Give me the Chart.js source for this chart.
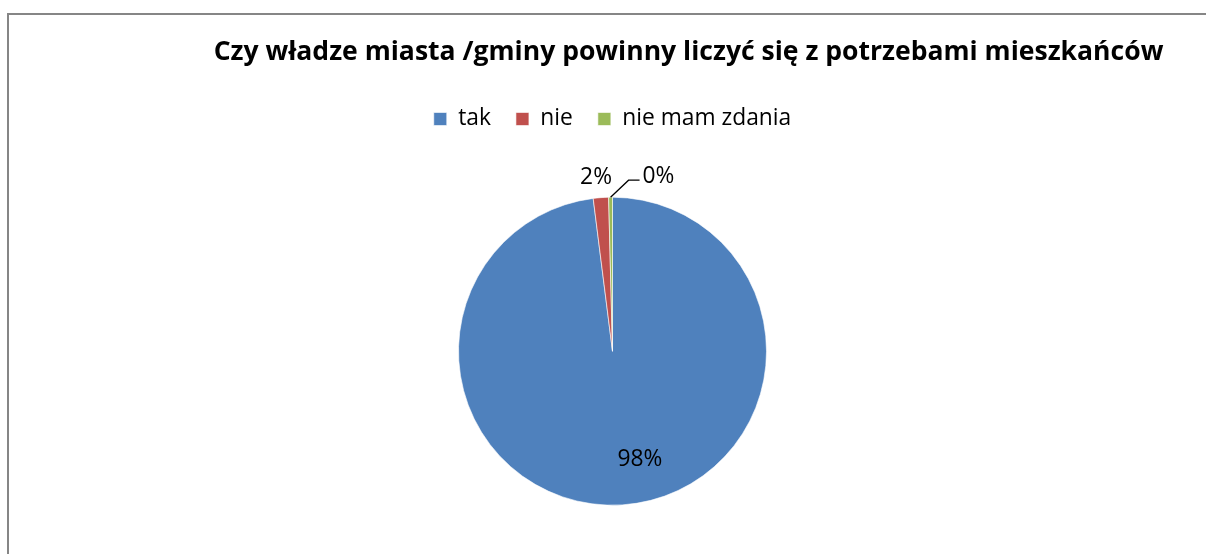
<!DOCTYPE html>
<html>
<head>
<meta charset="utf-8">
<script src="https://cdn.jsdelivr.net/npm/chart.js@4.4.1/dist/chart.umd.min.js"></script>
<style>
html,body{margin:0;padding:0;background:#fff;overflow:hidden;}
canvas{display:block;}
</style>
</head>
<body>
<canvas id="c" width="1206" height="554"></canvas>
<script>
const titleText = 'Czy władze miasta /gminy powinny liczyć się z potrzebami mieszkańców';
const categories = ['tak', 'nie', 'nie mam zdania'];
const values = [245, 4, 1];
const labelTexts = ['98%', '2%', '0%'];
const colors = ['#4F81BD', '#C0504D', '#9BBB59'];

const FONT = '"Open Sans", Lato, sans-serif';

// fit font sizes to the widths measured in the reference
const mctx = document.createElement('canvas').getContext('2d');
mctx.font = 'bold 100px ' + FONT;
const titleSize = 100 * 950 / mctx.measureText(titleText).width;
mctx.font = '100px ' + FONT;
const textSize = 100 * 169 / mctx.measureText('nie mam zdania').width;

// label placement relative to arc (angle clockwise from top in degrees, fraction of radius)
const labelPlacement = [
  {angle: 165.7, dist: 0.723, leader: false},
  {angle: 354.6, dist: 1.135, leader: false},
  {angle: null, dist: 1.0, leader: true}
];

const framePlugin = {
  id: 'frame',
  beforeDraw(chart) {
    const ctx = chart.ctx;
    ctx.save();
    ctx.fillStyle = '#ffffff';
    ctx.fillRect(0, 0, chart.width, chart.height);
    ctx.strokeStyle = '#868686';
    ctx.lineWidth = 2;
    ctx.strokeRect(8, 14, chart.width + 20, chart.height + 20);
    ctx.fillStyle = '#000';
    ctx.font = 'bold ' + titleSize + 'px ' + FONT;
    ctx.textAlign = 'center';
    ctx.textBaseline = 'alphabetic';
    ctx.fillText(titleText, 688.5, 60);
    ctx.restore();
  }
};

const labelPlugin = {
  id: 'pieLabels',
  afterDatasetsDraw(chart) {
    const ctx = chart.ctx;
    const meta = chart.getDatasetMeta(0);
    ctx.save();
    ctx.font = textSize + 'px ' + FONT;
    ctx.fillStyle = '#000';
    ctx.textBaseline = 'middle';
    meta.data.forEach((arc, i) => {
      const p = arc.getProps(['x', 'y', 'startAngle', 'endAngle', 'outerRadius'], true);
      const pl = labelPlacement[i];
      if (!pl.leader) {
        const a = (pl.angle - 90) * Math.PI / 180;
        const x = p.x + Math.cos(a) * p.outerRadius * pl.dist;
        const y = p.y + Math.sin(a) * p.outerRadius * pl.dist;
        ctx.textAlign = 'center';
        ctx.fillText(labelTexts[i], x, y);
      } else {
        const mid = (p.startAngle + p.endAngle) / 2;
        const x0 = p.x + Math.cos(mid) * p.outerRadius;
        const y0 = p.y + Math.sin(mid) * p.outerRadius;
        const x1 = x0 + 18, y1 = y0 - 17;
        const x2 = x1 + 11;
        ctx.strokeStyle = '#000';
        ctx.lineWidth = 1.3;
        ctx.beginPath();
        ctx.moveTo(x0, y0);
        ctx.lineTo(x1, y1);
        ctx.lineTo(x2, y1);
        ctx.stroke();
        ctx.textAlign = 'left';
        ctx.fillText(labelTexts[i], x2 + 3, y1 - 4);
      }
    });
    ctx.restore();
  }
};

const legendTop = 119 - 25 - textSize / 2;

new Chart(document.getElementById('c'), {
  type: 'pie',
  data: {
    labels: categories,
    datasets: [{
      data: values,
      backgroundColor: colors,
      borderColor: '#ffffff',
      borderWidth: 0.6,
      radius: 154
    }]
  },
  options: {
    responsive: false,
    animation: false,
    devicePixelRatio: 1,
    layout: {padding: {top: legendTop, bottom: 0, left: 30, right: 11}},
    plugins: {
      title: {display: false},
      subtitle: {
        display: true,
        text: '',
        position: 'top',
        weight: 500,
        font: {size: 1, lineHeight: 1},
        padding: {top: 0, bottom: 7}
      },
      tooltip: {enabled: false},
      legend: {
        display: true,
        position: 'top',
        labels: {
          font: {family: FONT, size: textSize},
          color: '#000',
          boxWidth: 13,
          boxHeight: 13,
          padding: 25
        }
      }
    }
  },
  plugins: [framePlugin, labelPlugin]
});
</script>
</body>
</html>
